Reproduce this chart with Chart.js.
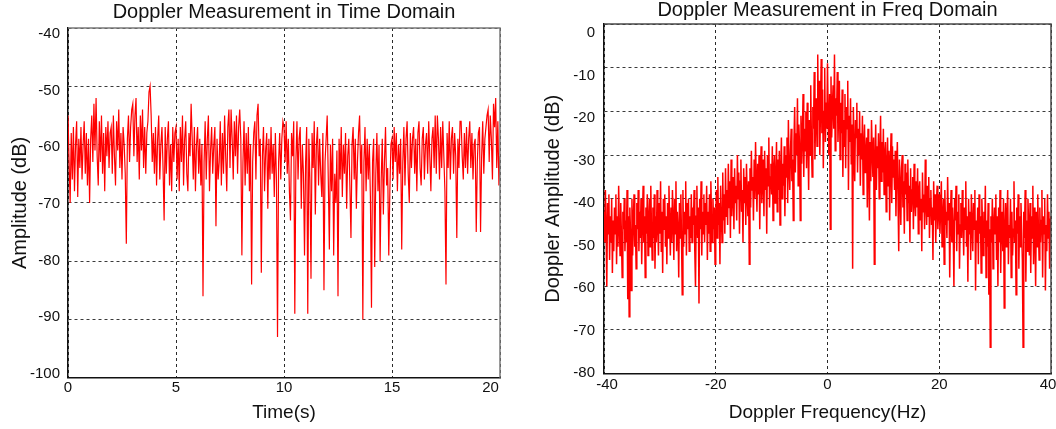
<!DOCTYPE html>
<html>
<head>
<meta charset="utf-8">
<title>Doppler Measurement</title>
<script src="https://cdn.jsdelivr.net/npm/chart.js@4.4.1/dist/chart.umd.min.js"></script>
<style>
  html, body { margin: 0; padding: 0; background: #ffffff; }
  #wrap { position: relative; width: 1056px; height: 429px; overflow: hidden; background: #ffffff; }
  canvas { position: absolute; top: 0; }
  #timeChart { left: 0; }
  #freqChart { left: 530px; }
</style>
</head>
<body>
<div id="wrap">
  <canvas id="timeChart" width="530" height="429"></canvas>
  <canvas id="freqChart" width="526" height="429"></canvas>
</div>
<script>
// ---- Time-domain record: amplitude (dB), one sample every 0.05 s from 0 to 20 s ----
const TIME_STEP = 0.05;
const timeAmplitude = [
  -55,-63,-70,-58,-66,-57,-68,-60,-56,-69,-59,-64,-57,-66,-60,-56,-65,-58,-67,-59,
  -70,-59,-55,-63,-53,-61,-52,-62,-67,-56,-63,-55,-65,-58,-68,-57,-62,-56,-64,-58,
  -57,-65,-55,-62,-67,-56,-61,-54,-64,-58,-66,-57,-60,-65,-77,-59,-55,-63,-57,-54,
  -53,-62,-55,-52,-63,-57,-66,-55,-61,-54,-64,-57,-65,-58,-56,-51,-50,-55,-63,-58,
  -65,-57,-67,-59,-55,-66,-60,-57,-64,-73,-57,-65,-59,-56,-67,-60,-68,-57,-63,-58,
  -57,-66,-59,-68,-57,-63,-55,-67,-59,-56,-65,-68,-58,-62,-53,-59,-66,-57,-68,-60,
  -57,-65,-59,-67,-60,-86,-63,-56,-66,-59,-55,-68,-61,-57,-65,-60,-57,-74,-59,-66,
  -63,-56,-67,-58,-65,-55,-62,-68,-57,-54,-64,-54,-59,-66,-56,-62,-55,-65,-57,-54,
  -59,-79,-63,-56,-67,-58,-65,-57,-68,-60,-84,-63,-58,-56,-66,-55,-53,-62,-59,-82,
  -62,-57,-68,-61,-58,-71,-59,-66,-57,-65,-60,-69,-58,-66,-93,-63,-58,-66,-59,-56,
  -57,-63,-56,-65,-59,-68,-73,-58,-62,-56,-89,-63,-56,-66,-59,-57,-71,-60,-65,-79,
  -63,-57,-89,-59,-66,-83,-58,-64,-56,-72,-60,-57,-67,-59,-65,-69,-58,-85,-63,-59,
  -55,-66,-78,-60,-68,-59,-79,-65,-70,-61,-86,-59,-66,-57,-69,-60,-65,-58,-71,-62,
  -59,-67,-76,-60,-57,-66,-59,-71,-63,-58,-55,-65,-60,-90,-63,-57,-68,-59,-66,-60,
  -69,-88,-63,-59,-81,-65,-58,-68,-60,-80,-66,-59,-72,-63,-57,-67,-64,-79,-68,-60,
  -59,-66,-57,-63,-58,-68,-60,-65,-59,-78,-63,-57,-67,-59,-56,-65,-70,-58,-64,-59,
  -57,-65,-59,-68,-58,-56,-64,-67,-59,-57,-66,-60,-58,-65,-56,-62,-68,-59,-57,-64,
  -55,-65,-55,-59,-66,-57,-64,-56,-62,-68,-84,-58,-64,-56,-66,-59,-57,-65,-58,-62,
  -76,-59,-64,-56,-56,-62,-66,-58,-64,-57,-65,-59,-56,-64,-58,-66,-60,-59,-75,-63,
  -58,-57,-75,-62,-56,-65,-59,-57,-55,-54,-63,-55,-59,-66,-53,-57,-52,-64,-56,-67,
  -62
];

// ---- Doppler spectrum: amplitude (dB), one bin every 0.125 Hz from -40 to 40 Hz ----
const FREQ_START = -40;
const FREQ_STEP = 0.125;
const dopplerAmplitude = [
  -43,-50,-38,-47,-60,-41,-48,-39,-54,-44,-50,-40,-57,-45,-52,-42,
  -48,-39,-55,-44,-51,-37,-46,-53,-41,-49,-58,-43,-47,-40,-52,-45,
  -50,-38,-63,-44,-67,-42,-48,-61,-40,-53,-45,-39,-51,-46,-56,-41,
  -47,-38,-52,-43,-49,-40,-55,-45,-37,-50,-44,-58,-42,-48,-39,-53,
  -45,-40,-51,-37,-47,-54,-42,-49,-39,-56,-44,-50,-38,-46,-53,-41,
  -48,-36,-52,-43,-57,-40,-47,-39,-51,-44,-55,-41,-49,-37,-46,-53,
  -42,-50,-38,-45,-54,-40,-48,-36,-52,-43,-47,-58,-41,-49,-39,-49,
  -62,-38,-51,-43,-48,-36,-53,-41,-47,-40,-52,-44,-49,-39,-50,-42,
  -46,-38,-52,-60,-44,-37,-49,-42,-64,-40,-47,-36,-53,-43,-48,-39,
  -50,-41,-46,-37,-54,-43,-48,-39,-52,-36,-45,-50,-40,-47,-42,-55,
  -44,-38,-49,-35,-46,-41,-55,-37,-43,-50,-34,-45,-39,-48,-33,-44,
  -38,-46,-32,-42,-36,-49,-31,-44,-39,-35,-47,-33,-41,-37,-45,-30,
  -40,-34,-48,-36,-31,-43,-38,-50,-33,-41,-35,-46,-32,-39,-44,-36,
  -55,-33,-42,-29,-38,-35,-45,-31,-40,-27,-36,-43,-32,-39,-30,-47,
  -34,-28,-41,-36,-31,-44,-29,-38,-33,-48,-30,-37,-26,-42,-35,-32,
  -39,-28,-45,-33,-30,-41,-36,-27,-43,-31,-38,-29,-46,-34,-26,-40,
  -32,-37,-28,-44,-30,-35,-26,-41,-22,-33,-38,-29,-24,-36,-31,-45,
  -27,-19,-34,-25,-30,-17,-37,-23,-28,-45,-21,-32,-26,-16,-35,-24,
  -29,-20,-33,-18,-26,-38,-22,-30,-14,-27,-35,-19,-24,-11,-31,-21,
  -17,-28,-7,-22,-13,-30,-19,-8,-25,-15,-33,-20,-10,-27,-18,-24,
  -9,-22,-30,-16,-47,-12,-26,-19,-14,-24,-7,-29,-17,-21,-11,-27,
  -20,-13,-31,-18,-25,-15,-35,-22,-28,-16,-33,-19,-24,-13,-38,-21,
  -27,-17,-32,-23,-56,-19,-29,-36,-22,-26,-18,-34,-24,-30,-20,-37,
  -25,-31,-21,-39,-28,-23,-34,-30,-26,-42,-24,-32,-45,-27,-36,-22,
  -29,-35,-26,-55,-31,-23,-38,-28,-33,-25,-40,-30,-21,-36,-27,-34,
  -24,-39,-30,-27,-43,-33,-26,-37,-29,-45,-32,-25,-41,-28,-35,-31,
  -38,-29,-44,-34,-27,-40,-52,-31,-37,-46,-33,-30,-42,-36,-48,-32,
  -39,-34,-45,-31,-41,-37,-50,-33,-43,-38,-35,-47,-32,-40,-44,-36,
  -42,-33,-48,-38,-36,-45,-40,-52,-34,-43,-39,-47,-31,-41,-46,-37,
  -44,-35,-49,-40,-38,-46,-42,-54,-36,-45,-39,-50,-41,-37,-47,-43,
  -39,-48,-42,-36,-51,-44,-40,-55,-38,-46,-43,-49,-35,-45,-41,-58,
  -44,-38,-50,-42,-47,-60,-40,-45,-37,-52,-43,-48,-39,-56,-46,-41,
  -49,-38,-45,-53,-42,-47,-36,-51,-44,-59,-40,-48,-43,-54,-39,-46,
  -52,-41,-47,-38,-61,-45,-50,-42,-55,-39,-48,-44,-57,-40,-46,-53,
  -43,-49,-37,-58,-45,-51,-41,-62,-47,-74,-44,-50,-40,-56,-46,-42,
  -48,-39,-54,-44,-60,-42,-50,-38,-57,-46,-43,-52,-40,-65,-47,-41,
  -51,-44,-38,-55,-46,-49,-40,-58,-43,-53,-47,-36,-50,-45,-62,-42,
  -48,-39,-56,-44,-51,-41,-47,-54,-74,-43,-49,-38,-59,-45,-52,-40,
  -46,-53,-41,-57,-44,-49,-37,-55,-42,-48,-60,-43,-51,-39,-47,-54,
  -42,-50,-45,-38,-58,-44,-48,-40,-61,-46,-52,-39,-49,-43,-56,-45,
  -44
];

// ---- Axis ticks ----
const timeTicks = [0, 5, 10, 15, 20];
const timeAmpTicks = [-100, -90, -80, -70, -60, -50, -40];
const freqTicks = [-40, -20, 0, 20, 40];
const freqAmpTicks = [-80, -70, -60, -50, -40, -30, -20, -10, 0];

const FONT = "'Liberation Sans', Arial, Helvetica, sans-serif";
Chart.defaults.font.family = FONT;
Chart.defaults.color = '#111';

// Draws the grey top/right frame and the tick labels next to the axes.
const frameAndLabels = {
  id: 'frameAndLabels',
  afterDraw(chart, args, opts) {
    const { ctx, chartArea: a, scales: { x, y } } = chart;
    ctx.save();
    ctx.strokeStyle = opts.frameColor;
    ctx.lineWidth = 1.5;
    ctx.beginPath();
    ctx.moveTo(a.left, a.top);
    ctx.lineTo(a.right, a.top);
    ctx.lineTo(a.right, a.bottom);
    ctx.stroke();

    ctx.fillStyle = '#111';
    ctx.font = opts.font;
    ctx.textAlign = 'right';
    ctx.textBaseline = 'middle';
    const [top, bottom] = opts.yLabelSpan;
    y.ticks.forEach(t => {
      const p = y.getPixelForValue(t.value);
      const ly = top + (p - a.top) * (bottom - top) / (a.bottom - a.top);
      ctx.fillText(String(t.value), a.left - opts.yGap, ly);
    });

    ctx.textAlign = 'center';
    x.ticks.forEach((t, i) => {
      const p = x.getPixelForValue(t.value) + (opts.xShift[i] || 0);
      ctx.fillText(String(t.value), p, a.bottom + opts.xGap);
    });
    ctx.restore();
  }
};

function buildChart(id, xs, ys, cfg) {
  return new Chart(document.getElementById(id), {
    type: 'line',
    data: {
      datasets: [{
        data: xs.map((v, i) => ({ x: v, y: ys[i] })),
        borderColor: '#ff0000',
        borderWidth: cfg.lineWidth,
        pointRadius: 0,
        tension: 0,
        fill: false
      }]
    },
    options: {
      responsive: false,
      animation: false,
      events: [],
      layout: { padding: { left: 0, right: cfg.padRight, top: 0, bottom: 0 } },
      plugins: {
        legend: { display: false },
        tooltip: { enabled: false },
        title: {
          display: true,
          text: cfg.title,
          fullSize: false,
          color: '#111',
          font: { size: 20, weight: 'normal', lineHeight: cfg.titleLineHeight },
          padding: { top: 0, bottom: cfg.titleGap }
        },
        frameAndLabels: {
          frameColor: cfg.frameColor,
          font: '15px ' + FONT,
          yLabelSpan: cfg.yLabelSpan,
          yGap: cfg.yGap,
          xGap: cfg.xGap,
          xShift: cfg.xShift
        }
      },
      scales: {
        x: {
          type: 'linear',
          min: cfg.xTicks[0],
          max: cfg.xTicks[cfg.xTicks.length - 1],
          afterBuildTicks: s => { s.ticks = cfg.xTicks.map(v => ({ value: v })); },
          afterFit: s => { s.height = cfg.xAxisHeight; s.paddingLeft = 0; s.paddingRight = 0; },
          ticks: { display: false },
          grid: { color: '#2a2a2a', lineWidth: 1, drawTicks: false },
          border: { color: '#111', width: 1.5, dash: [3, 3] },
          title: {
            display: true,
            text: cfg.xTitle,
            color: '#111',
            font: { size: 19, weight: 'normal', lineHeight: 1.2 },
            padding: { top: 0, bottom: 4.5 }
          }
        },
        y: {
          type: 'linear',
          min: cfg.yTicks[0],
          max: cfg.yTicks[cfg.yTicks.length - 1],
          afterBuildTicks: s => { s.ticks = cfg.yTicks.map(v => ({ value: v })); },
          afterFit: s => { s.width = cfg.yAxisWidth; s.paddingTop = 0; s.paddingBottom = 0; },
          ticks: { display: false },
          grid: { color: '#3a3a3a', lineWidth: 1, drawTicks: false },
          border: { color: '#111', width: 1.5, dash: [3, 3] },
          title: {
            display: true,
            text: cfg.yTitle,
            color: '#111',
            font: { size: 20, weight: 'normal', lineHeight: 1.2 },
            padding: { top: cfg.yTitleOffset, bottom: 0 }
          }
        }
      }
    },
    plugins: [frameAndLabels]
  });
}

const timeAxis = timeAmplitude.map((_, i) => i * TIME_STEP);
const freqAxis = dopplerAmplitude.map((_, i) => FREQ_START + i * FREQ_STEP);

buildChart('timeChart', timeAxis, timeAmplitude, {
  title: 'Doppler Measurement in Time Domain',
  xTitle: 'Time(s)',
  yTitle: 'Amplitude (dB)',
  xTicks: timeTicks,
  yTicks: timeAmpTicks,
  lineWidth: 1.2,
  frameColor: '#7a7a7a',
  padRight: 30,
  titleLineHeight: 1.2,
  titleGap: 4,
  xAxisHeight: 51.2,
  yAxisWidth: 68,
  yTitleOffset: 8,
  yLabelSpan: [33.7, 374],
  yGap: 8,
  xGap: 10.2,
  xShift: [0, 0, 0, 0, -9.5]
});

buildChart('freqChart', freqAxis, dopplerAmplitude, {
  title: 'Doppler Measurement in Freq Domain',
  xTitle: 'Doppler Frequency(Hz)',
  yTitle: 'Doppler Amplitude (dB)',
  xTicks: freqTicks,
  yTicks: freqAmpTicks,
  lineWidth: 1.5,
  frameColor: '#4a4a4a',
  padRight: 5,
  titleLineHeight: 1.05,
  titleGap: 3,
  xAxisHeight: 55.5,
  yAxisWidth: 74,
  yTitleOffset: 11,
  yLabelSpan: [33.3, 373],
  yGap: 9,
  xGap: 11.2,
  xShift: [3, 0, 0, 0, -3]
});
</script>
</body>
</html>
